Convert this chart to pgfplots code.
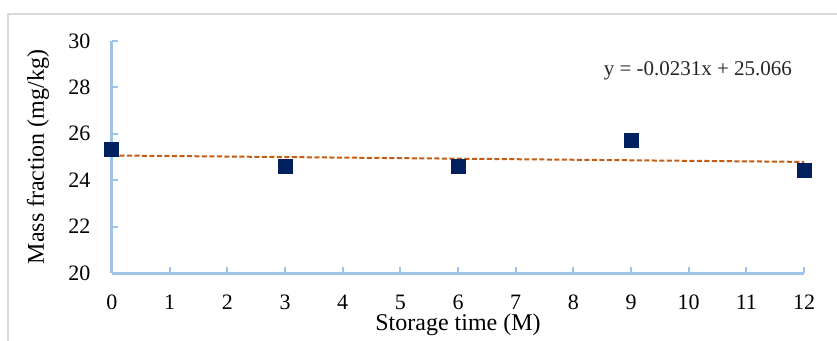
\documentclass[border=0pt]{standalone}
\usepackage{fontspec}
\setmainfont{Liberation Serif}
\usepackage{pgfplots}
\pgfplotsset{compat=1.18}
\definecolor{axblue}{HTML}{9DC3E6}
\definecolor{navy}{HTML}{002060}
\definecolor{trend}{HTML}{C55A11}
\definecolor{framegray}{HTML}{D9D9D9}
\begin{document}
\begin{tikzpicture}[x=1pt,y=1pt]
\useasboundingbox (-112,-67) rectangle (725,273);
\draw[framegray, line width=1.5pt] (-104,-70) -- (-104,259) -- (730,259);
\begin{axis}[
  at={(0,0)}, anchor=origin,
  scale only axis, width=692pt, height=232pt,
  xmin=0, xmax=12, ymin=20, ymax=30,
  xtick={0,1,...,12}, ytick={20,22,...,30},
  axis lines*=left,
  axis line style={axblue, line width=3pt},
  tick style={axblue, line width=2.2pt},
  tick align=inside, major tick length=6pt,
  clip=false,
  /pgf/number format/assume math mode=true,
  ticklabel style={font=\fontsize{22}{24}\selectfont, text=black},
  xticklabel style={inner sep=0pt, anchor=north, yshift=-22pt},
  yticklabel style={xshift=-18pt},
  xlabel={\fontsize{24}{28}\selectfont Storage time (M)},
  ylabel={\fontsize{24}{28}\selectfont Mass fraction (mg/kg)},
  xlabel style={at={(axis description cs:0.5,0)}, anchor=center, inner sep=0pt, yshift=-52pt},
  ylabel style={at={(axis description cs:0,0.5)}, anchor=center, yshift=74pt},
]
\addplot[trend, line width=2pt, dash pattern=on 5pt off 2.5pt] coordinates {(0,25.066) (12,24.789)};
\addplot[only marks, mark=square*, mark size=7pt, mark options={fill=navy, draw=navy, line width=0pt}] coordinates {
(0,25.34) (3,24.58) (6,24.58) (9,25.73) (12,24.41)};
\node[font=\fontsize{21}{23}\selectfont, text=black!85] at (axis cs:10.16,28.71) {y = -0.0231x + 25.066};
\end{axis}
\end{tikzpicture}
\end{document}
